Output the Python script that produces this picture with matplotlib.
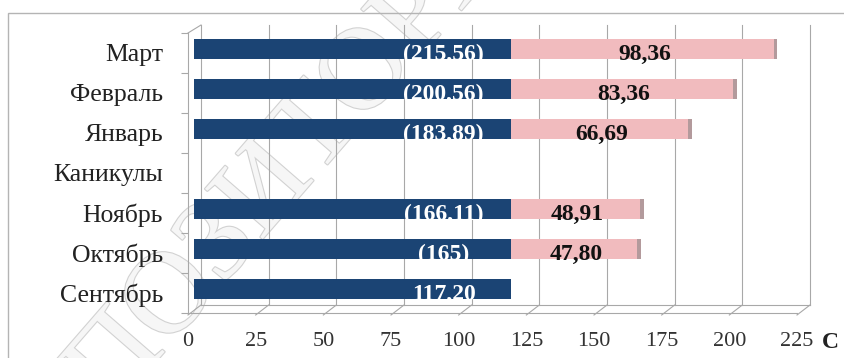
import numpy as np
import matplotlib.pyplot as plt
from matplotlib.transforms import ScaledTranslation
from matplotlib.patches import Rectangle
from matplotlib import patheffects as pe

plt.rcParams['font.family'] = ['Liberation Serif', 'DejaVu Serif']

# Categories from bottom to top
months = ['Сентябрь', 'Октябрь', 'Ноябрь', 'Каникулы', 'Январь', 'Февраль', 'Март']
base = [117.20, 117.20, 117.20, 0, 117.20, 117.20, 117.20]
extra = [0, 47.80, 48.91, 0, 66.69, 83.36, 98.36]
x_ticks = [0, 25, 50, 75, 100, 125, 150, 175, 200, 225]

blue = '#1b4474'
pink = '#f1bbbe'
pink_side = '#b39a9c'
grid = '#a8a8a8'

fig = plt.figure(figsize=(8.45, 3.58), dpi=100)

# faint diagonal watermark behind the chart
fig.text(0.325, 0.49, 'РЕПОЗИТОРИЙ', rotation=49, fontsize=84,
         ha='center', va='center', rotation_mode='anchor', color='#f6f6f6',
         zorder=-1, path_effects=[pe.withStroke(linewidth=1.6, foreground='#d2d2d2')])

# outer chart frame
fig.add_artist(Rectangle((8 / 845, -0.2), 1.2, 1 - 13 / 358 + 0.2,
                         transform=fig.transFigure, fill=False,
                         edgecolor='#b4b4b4', lw=1.0))

ax = fig.add_axes([188 / 845, 45 / 358, 609 / 845, 280 / 358])
ax.patch.set_alpha(0)
ax.set_xlim(0, 225)
ax.set_ylim(-0.5, 6.5)

# pseudo-3D depth: bars sit in the middle, gridlines on the back wall
bar_tr = ax.transData + ScaledTranslation(6 / 100, 4 / 100, fig.dpi_scale_trans)
back_tr = ax.transData + ScaledTranslation(13 / 100, 8 / 100, fig.dpi_scale_trans)
lab_tr = ax.transData + ScaledTranslation(6 / 100, -1 / 100, fig.dpi_scale_trans)
px_x = 609 / 225
px_y = 280 / 7
dx, dy = 13 / px_x, 8 / px_y

for v in x_ticks:
    ax.plot([v, v], [-0.5, 6.5], color=grid, lw=0.8, transform=back_tr,
            clip_on=False, zorder=1)
    ax.plot([v, v + dx], [-0.5 - 0.05, -0.5 + dy], color=grid, lw=0.8,
            clip_on=False, zorder=1)
ax.plot([0, 225], [-0.5, -0.5], color=grid, lw=0.8, transform=back_tr,
        clip_on=False, zorder=1)
ax.plot([0, dx], [6.5, 6.5 + dy], color=grid, lw=0.8, clip_on=False)

y = np.arange(len(months))
totals = np.array(base) + np.array(extra)
ax.barh(y, base, height=0.5, color=blue, transform=bar_tr, zorder=2)
ax.barh(y, extra, left=base, height=0.5, color=pink, transform=bar_tr, zorder=2)
# darker end face on the pink segments
side_w = [1.3 if e > 0 else 0 for e in extra]
ax.barh(y, side_w, left=totals - np.array(side_w), height=0.5, color=pink_side,
        transform=bar_tr, zorder=2)

for i in range(len(months)):
    if base[i] == 0:
        continue
    if extra[i] > 0:
        s = '(' + f'{round(totals[i], 2):g}'.replace('.', ',') + ')'
        ax.text(base[i] + extra[i] / 2, y[i], f'{extra[i]:.2f}'.replace('.', ','),
                ha='center', va='center', fontsize=17, fontweight='bold',
                color='#111111', transform=lab_tr, zorder=3)
    else:
        s = f'{base[i]:.2f}'.replace('.', ',')
    ax.text(base[i] - 25, y[i], s, ha='center', va='center', fontsize=17,
            fontweight='bold', color='white', transform=lab_tr, zorder=3)

ax.set_xticks(x_ticks)
ax.set_yticks(y)
ax.set_yticklabels(months)
ax.set_yticks(np.arange(-0.5, 7, 1), minor=True)
ax.tick_params(axis='x', length=0, pad=14, labelsize=16, labelcolor='#333333')
ax.tick_params(axis='y', which='major', length=0, pad=18, labelsize=18.5,
               labelcolor='#222222')
ax.tick_params(axis='y', which='minor', length=5, color=grid, width=0.8)
for side in ['top', 'right']:
    ax.spines[side].set_visible(False)
for side in ['left', 'bottom']:
    ax.spines[side].set_color(grid)
    ax.spines[side].set_linewidth(0.8)

fig.text(830 / 845, 1 - 342 / 358, 'С', fontsize=17, fontweight='bold',
         ha='center', va='center', color='#222222')

fig.savefig('out.png', dpi=100)
